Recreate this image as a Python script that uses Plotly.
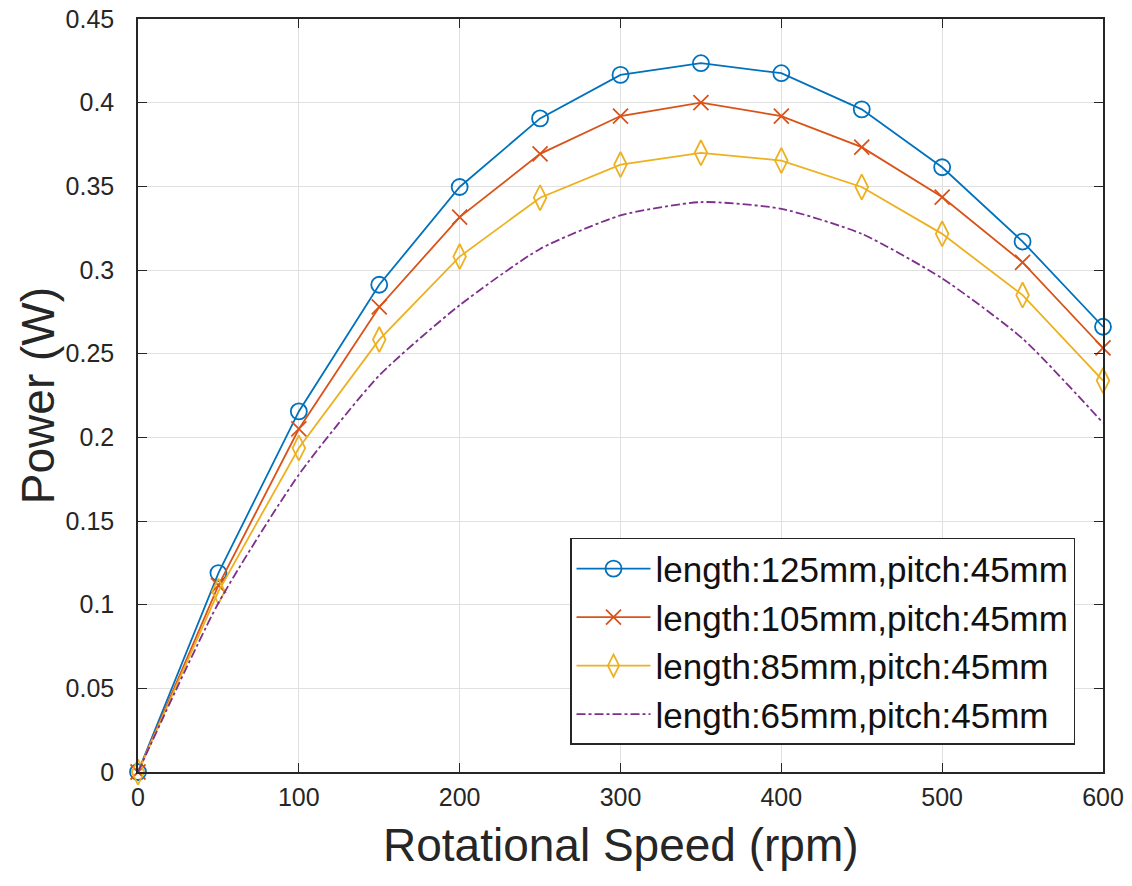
import plotly.graph_objects as go

speed = [0, 50, 100, 150, 200, 250, 300, 350, 400, 450, 500, 550, 600]
p125 = [0, 0.1189, 0.2155, 0.2912, 0.3496, 0.3906, 0.4166, 0.4236, 0.4176, 0.3960, 0.3614, 0.3170, 0.2661]
p105 = [0, 0.1115, 0.2050, 0.2779, 0.3316, 0.3694, 0.3920, 0.4000, 0.3920, 0.3734, 0.3436, 0.3046, 0.2534]
p85 = [0, 0.1080, 0.1936, 0.2584, 0.3080, 0.3432, 0.3630, 0.3700, 0.3654, 0.3496, 0.3216, 0.2850, 0.2339]
p65 = [0, 0.1010, 0.1777, 0.2370, 0.2790, 0.3126, 0.3326, 0.3406, 0.3366, 0.3216, 0.2950, 0.2590, 0.2087]
names = ["length:125mm,pitch:45mm", "length:105mm,pitch:45mm",
         "length:85mm,pitch:45mm", "length:65mm,pitch:45mm"]
x_title = "Rotational Speed (rpm)"
y_title = "Power (W)"

FONT = "Arial, Liberation Sans, sans-serif"
TXT = "#262626"

fig = go.Figure()
fig.add_trace(go.Scatter(x=speed, y=p125, name=names[0], mode="lines+markers",
                         line=dict(color="#0072BD", width=1.8),
                         marker=dict(symbol="circle-open", size=16, line=dict(width=1.8, color="#0072BD")),
                         cliponaxis=False))
fig.add_trace(go.Scatter(x=speed, y=p105, name=names[1], mode="lines+markers",
                         line=dict(color="#D95319", width=1.8),
                         marker=dict(symbol="x-thin-open", size=15, line=dict(width=1.8, color="#D95319")),
                         cliponaxis=False))
fig.add_trace(go.Scatter(x=speed, y=p85, name=names[2], mode="lines+markers",
                         line=dict(color="#EDB120", width=1.8),
                         marker=dict(symbol="diamond-tall-open", size=18, line=dict(width=1.8, color="#EDB120")),
                         cliponaxis=False))
fig.add_trace(go.Scatter(x=speed, y=p65, name=names[3], mode="lines",
                         line=dict(color="#7E2F8E", width=1.8, dash="dashdot", shape="spline", smoothing=0.6),
                         cliponaxis=False))

fig.update_layout(
    width=1132, height=886,
    margin=dict(l=138, r=29, t=19, b=114, autoexpand=False),
    paper_bgcolor="white", plot_bgcolor="white",
    font=dict(family=FONT, color=TXT, size=25),
    showlegend=True,
    legend=dict(x=0.971, y=0.036, xanchor="right", yanchor="bottom",
                bgcolor="white", bordercolor=TXT, borderwidth=1.5,
                font=dict(size=35, family=FONT, color="#111111"),
                itemwidth=74, tracegroupgap=0),
    annotations=[
        dict(text=x_title, xref="paper", yref="paper", x=0.5, y=-0.097, xanchor="center",
             yanchor="middle", showarrow=False, font=dict(size=46, family=FONT, color=TXT)),
        dict(text=y_title, xref="paper", yref="paper", x=-0.104, y=0.5, xanchor="center",
             yanchor="middle", showarrow=False, textangle=-90, font=dict(size=46, family=FONT, color=TXT)),
    ],
)
axis_common = dict(showline=True, linecolor=TXT, linewidth=1.5, mirror="allticks",
                   ticks="inside", ticklen=9, tickcolor=TXT, tickwidth=1.2,
                   showgrid=True, gridcolor="#e0e0e0", gridwidth=1.2, zeroline=False,
                   automargin=False,
                   tickfont=dict(size=25, family=FONT, color=TXT))
fig.update_xaxes(range=[0, 600], dtick=100, tick0=0, ticklabelstandoff=2, **axis_common)
fig.update_yaxes(range=[0, 0.45], dtick=0.05, tick0=0, ticklabelstandoff=17, **axis_common)

fig.write_html("out.html")
